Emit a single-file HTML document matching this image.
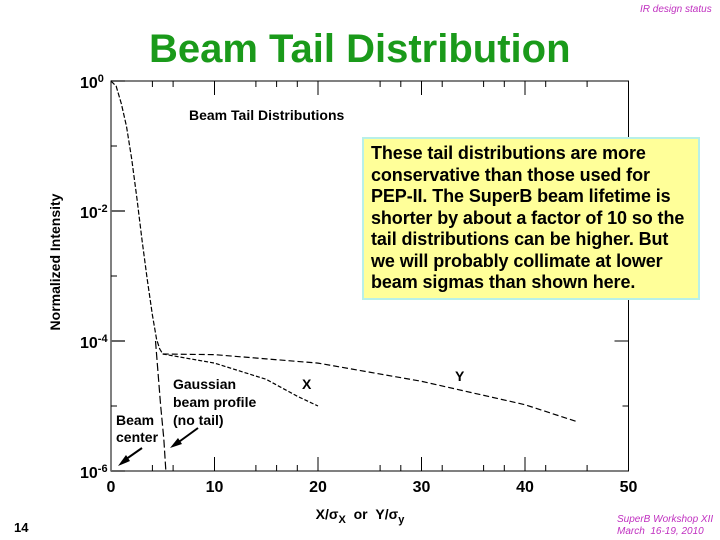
<!DOCTYPE html>
<html><head><meta charset="utf-8"><style>
body{margin:0;background:#fff}
#wrap{position:relative;width:720px;height:540px;overflow:hidden;font-family:"Liberation Sans",sans-serif}
.t{position:absolute;white-space:nowrap}
</style></head><body>
<div id="wrap">
<div class="t" style="left:640px;top:4px;font-size:10px;font-style:italic;color:#c030c0">IR design status</div>
<div class="t" style="left:149px;top:27px;font-size:40px;font-weight:bold;color:#1a9a1a">Beam Tail Distribution</div>
<div class="t" style="left:14px;top:520px;font-size:13px;font-weight:bold">14</div>
<div class="t" style="left:617px;top:514px;font-size:10px;font-style:italic;color:#c030c0;line-height:12px">SuperB Workshop XII<br>March&nbsp; 16-19, 2010</div>
<svg id="chart" width="720" height="540" style="position:absolute;left:0;top:0"></svg>
<div class="t" style="left:362px;top:137px;width:327px;height:155px;background:#ffff99;border:2px solid #b8f0e8;padding:4px 0 0 7px;font-size:18px;font-weight:bold;line-height:21.5px;overflow:hidden;letter-spacing:-0.1px">These tail distributions are more<br>conservative than those used for<br>PEP-II. The SuperB beam lifetime is<br>shorter by about a factor of 10 so the<br>tail distributions can be higher. But<br>we will probably collimate at lower<br>beam sigmas than shown here.</div>
</div>
<script>
const xTickLabels=[0,10,20,30,40,50];
const yDecades=[0,-2,-4,-6];
const minorTop=[4,6,14,16,18,20,26,28,30,32,36,38,40,42,46];
const minorBottom=[4,6,14,16,18,20,26,28,30,32,36,38,40,42,46];
const coreX=[0,0.5,1,1.5,2,2.5,3,3.5,4,4.4,4.7,5];
const coreY=[0,-0.08,-0.35,-0.7,-1.2,-1.8,-2.45,-3.05,-3.6,-3.97,-4.12,-4.2];
const gaussX=[4.3,4.6,4.8,5.1,5.3];
const gaussY=[-4.0,-4.6,-5.0,-5.5,-6.0];
const tailXx=[5,10,15,18,20];
const tailXy=[-4.2,-4.34,-4.59,-4.85,-5.0];
const tailYx=[5,10,20,30,40,45];
const tailYy=[-4.2,-4.21,-4.34,-4.62,-4.98,-5.24];
const NS="http://www.w3.org/2000/svg";
const svg=document.getElementById('chart');
const X0=111,XU=10.35,Y0=81,YD=65;
const sx=v=>X0+v*XU, sy=l=>Y0-l*YD;
function mk(tag,attrs,name){const e=document.createElementNS(NS,tag);for(const k in attrs)e.setAttribute(k,attrs[k]);svg.appendChild(e);return e;}
mk('rect',{x:sx(0),y:sy(0),width:sx(50)-sx(0),height:sy(-6)-sy(0),fill:'none',stroke:'#000','stroke-width':1},'plot-frame');
xTickLabels.forEach(v=>{
 const t=mk('text',{x:sx(v),y:sy(-6)+21,'text-anchor':'middle','font-size':16,'font-weight':'bold','font-family':'Liberation Sans'},'x-tick-label');t.textContent=v;
 if(v>0&&v<50){mk('line',{x1:sx(v),x2:sx(v),y1:sy(-6),y2:sy(-6)-14,stroke:'#000'},'x-major-tick-bottom');mk('line',{x1:sx(v),x2:sx(v),y1:sy(0),y2:sy(0)+14,stroke:'#000'},'x-major-tick-top');}
});
minorTop.forEach(v=>mk('line',{x1:sx(v),x2:sx(v),y1:sy(0),y2:sy(0)+6,stroke:'#000'},'x-minor-tick-top'));
minorBottom.forEach(v=>mk('line',{x1:sx(v),x2:sx(v),y1:sy(-6),y2:sy(-6)-6,stroke:'#000'},'x-minor-tick-bottom'));
yDecades.forEach(d=>{
 const t=mk('text',{x:80,y:sy(d)+7,'font-size':16,'font-weight':'bold','font-family':'Liberation Sans'},'y-tick-label');
 t.innerHTML='10<tspan dy="-6" font-size="11">'+d+'</tspan>';
 mk('line',{x1:sx(0),x2:sx(0)+14,y1:sy(d),y2:sy(d),stroke:'#666','stroke-width':2},'y-major-tick');
 mk('line',{x1:sx(50),x2:sx(50)-14,y1:sy(d),y2:sy(d),stroke:'#000'},'y-major-tick-right');
 if(d>-6){mk('line',{x1:sx(0),x2:sx(0)+6,y1:sy(d-1),y2:sy(d-1),stroke:'#000'},'y-minor-tick');mk('line',{x1:sx(50),x2:sx(50)-6,y1:sy(d-1),y2:sy(d-1),stroke:'#000'},'y-minor-tick-right');}
});
function line(xs,ys,name,dash){mk('polyline',{points:xs.map((x,i)=>sx(x)+','+sy(ys[i])).join(' '),fill:'none',stroke:'#000','stroke-width':1.2,'stroke-dasharray':dash},name);}
line(coreX,coreY,'core-curve','5,2');
line(gaussX,gaussY,'gaussian-curve','8,3');
line(tailXx,tailXy,'x-tail-curve','4,2');
line(tailYx,tailYy,'y-tail-curve','6,3');
function txt(x,y,s,name,size){const t=mk('text',{x:x,y:y,'font-size':size||14,'font-weight':'bold','font-family':'Liberation Sans'},name);t.textContent=s;return t;}
txt(189,120,'Beam Tail Distributions','inner-title');
txt(173,389,'Gaussian','gaussian-label');txt(173,407,'beam profile','gaussian-label-2');txt(173,425,'(no tail)','gaussian-label-3');
txt(116,425,'Beam','beam-center-label');txt(116,442,'center','beam-center-label-2');
txt(302,389,'X','x-curve-label',14);txt(455,381,'Y','y-curve-label',14);
const yl=mk('text',{x:0,y:0,'font-size':14,'font-weight':'bold','font-family':'Liberation Sans','text-anchor':'middle',transform:'translate(60,262) rotate(-90)'},'y-axis-title');yl.textContent='Normalized Intensity';
const xl=mk('text',{x:360,y:519,'font-size':14,'font-weight':'bold','font-family':'Liberation Sans','text-anchor':'middle'},'x-axis-title');
xl.innerHTML='X/σ<tspan dy="4" font-size="11">X</tspan><tspan dy="-4"> &#160;or &#160;Y/σ</tspan><tspan dy="4" font-size="11">y</tspan>';
mk('line',{x1:142,y1:448,x2:122,y2:462,stroke:'#000','stroke-width':2},'arrow-beam-center');
mk('polygon',{points:'118,466 126,455 130,461',fill:'#000'},'arrowhead-beam-center');
mk('line',{x1:198,y1:428,x2:176,y2:444,stroke:'#000','stroke-width':2},'arrow-gaussian');
mk('polygon',{points:'170,448 178,438 182,444',fill:'#000'},'arrowhead-gaussian');
</script>
</body></html>
